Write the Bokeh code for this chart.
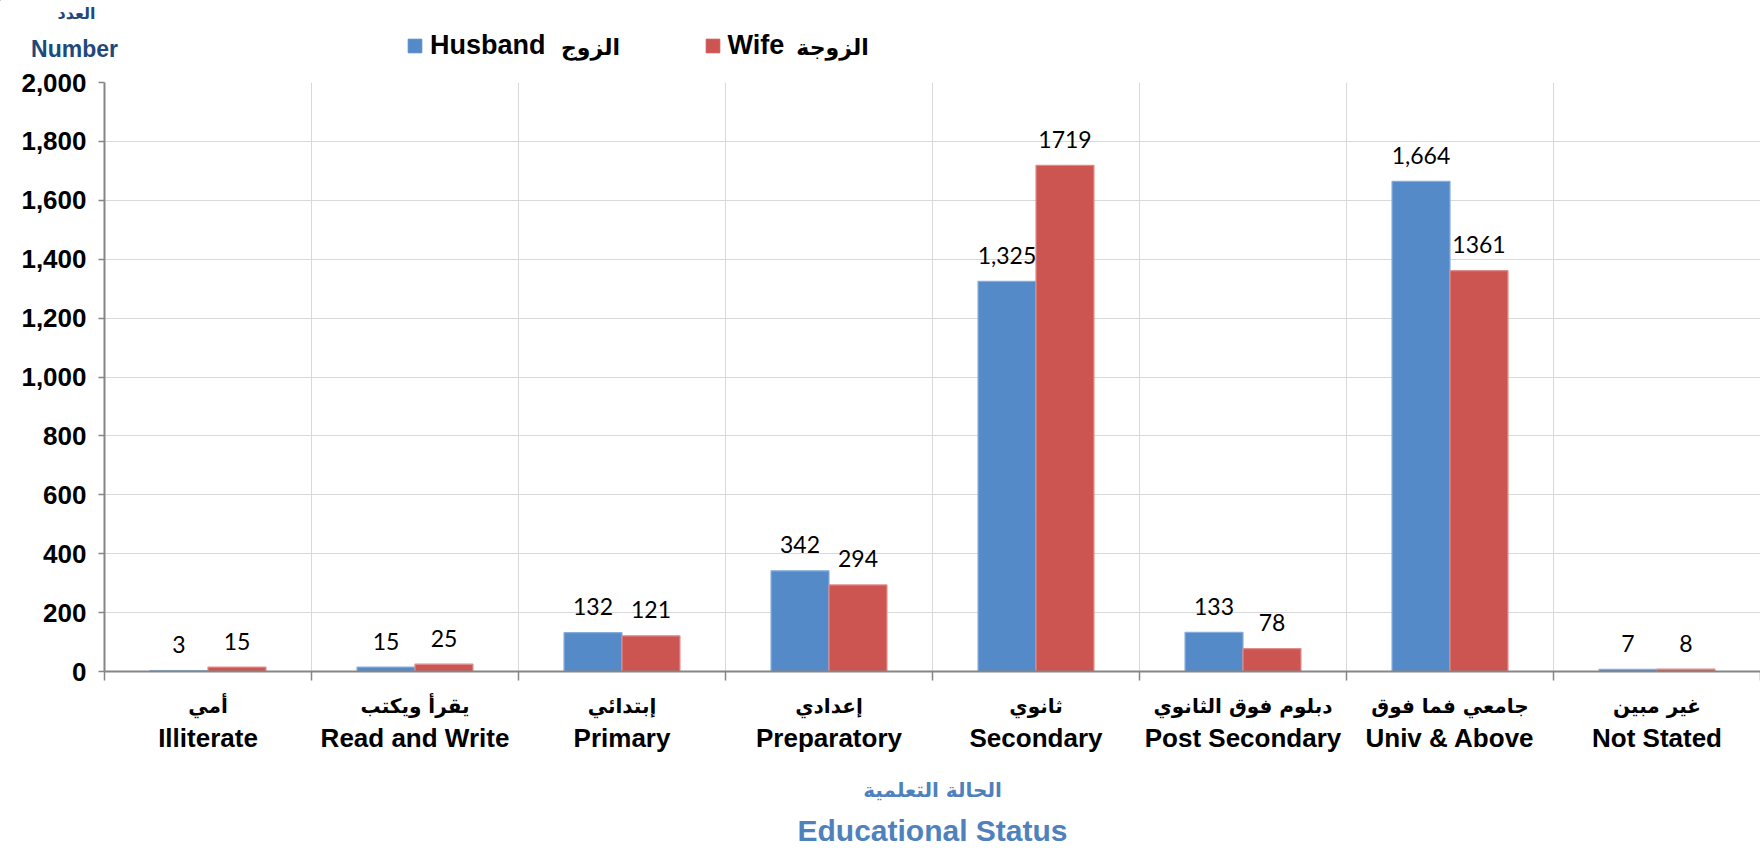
from bokeh.plotting import figure
from bokeh.models import (ColumnDataSource, Range1d, FixedTicker, NumeralTickFormatter,
                          Label, LabelSet, Legend, LegendItem)
from bokeh.core.properties import value
from bokeh.embed import file_html
from bokeh.resources import INLINE

# ---------------- data ----------------
categories_ar = ["أمي", "يقرأ ويكتب", "إبتدائي", "إعدادي", "ثانوي",
                 "دبلوم فوق الثانوي", "جامعي فما فوق", "غير مبين"]
categories_en = ["Illiterate", "Read and Write", "Primary", "Preparatory", "Secondary",
                 "Post Secondary", "Univ & Above", "Not Stated"]
husband = [3, 15, 132, 342, 1325, 133, 1664, 7]
wife = [15, 25, 121, 294, 1719, 78, 1361, 8]
y_ticks = [0, 200, 400, 600, 800, 1000, 1200, 1400, 1600, 1800, 2000]
series_en = ["Husband", "Wife"]
series_ar = ["الزوج", "الزوجة"]
y_title = ["العدد", "Number"]
x_title = ["الحالة التعلمية", "Educational Status"]

BLUE = "#558AC9"
BLUE_EDGE = "#86ACDC"
RED = "#CC5552"
RED_EDGE = "#E08C8A"
GRID = "#D9D9D9"
AXIS = "#868686"
NAVY = "#1F497D"
LBLUE = "#4F81BD"
SANS = "Liberation Sans"
ARAB = "DejaVu Sans"

W = 1760
HH = 64          # header height
MH = 621         # main figure height
FH_ = 164        # footer height
LEFT = 104

n = len(categories_en)
idx = list(range(n))
xr = Range1d(0, n)

# ---------------- header (axis title + legend) ----------------
hdr = figure(width=W, height=HH, output_backend="svg", toolbar_location=None,
             x_range=Range1d(0, W), y_range=Range1d(HH, 0),
             x_axis_type=None, y_axis_type=None,
             min_border=0, min_border_left=0, min_border_right=0,
             min_border_top=0, min_border_bottom=0,
             outline_line_color=None, background_fill_color="white",
             border_fill_color="white")
hdr.grid.visible = False
hdr.add_layout(Label(x=76, y=13, text=y_title[0], text_align="center",
                     text_baseline="middle", text_font=ARAB,
                     text_font_style="bold", text_font_size="16px", text_color=NAVY))
hdr.add_layout(Label(x=74, y=48, text=y_title[1], text_align="center",
                     text_baseline="middle", text_font=SANS,
                     text_font_style="bold", text_font_size="23px", text_color=NAVY))
# legend swatches (renderers kept outside the visible header range)
lh = hdr.vbar(x=[-500], top=[0], width=1, fill_color=BLUE, line_color=BLUE)
lw = hdr.vbar(x=[-500], top=[0], width=1, fill_color=RED, line_color=RED)
legend = Legend(items=[LegendItem(label=series_en[0], renderers=[lh]),
                       LegendItem(label=series_en[1], renderers=[lw])],
                location=(406, 3), orientation="horizontal",
                glyph_width=17, glyph_height=17, label_standoff=7, spacing=158,
                padding=0, margin=0, border_line_color=None, background_fill_alpha=0,
                label_text_font=SANS, label_text_font_style="bold",
                label_text_font_size="27px", label_text_color="black")
hdr.add_layout(legend)
hdr.add_layout(Label(x=590, y=47, text=series_ar[0], text_align="center",
                     text_baseline="middle", text_font=ARAB, text_font_style="bold",
                     text_font_size="22px", text_color="black"))
hdr.add_layout(Label(x=832, y=47, text=series_ar[1], text_align="center",
                     text_baseline="middle", text_font=ARAB, text_font_style="bold",
                     text_font_size="22px", text_color="black"))

# ---------------- main chart ----------------
p = figure(width=W, height=MH, output_backend="svg", toolbar_location=None,
           x_range=xr, y_range=Range1d(0, 2000),
           min_border_left=LEFT, min_border_right=0, min_border_top=18, min_border_bottom=14,
           background_fill_color="white", border_fill_color="white",
           outline_line_color=None)

bw = 0.28
src = ColumnDataSource(dict(
    xh=[i + 0.5 - bw / 2 for i in idx],
    xw=[i + 0.5 + bw / 2 for i in idx],
    husband=husband, wife=wife,
    th=["{:,}".format(v) for v in husband],
    tw=[str(v) for v in wife],
))

rh = p.vbar(x="xh", top="husband", width=bw, source=src, fill_color=BLUE,
            line_color=BLUE_EDGE, line_width=1.2)
rw = p.vbar(x="xw", top="wife", width=bw, source=src, fill_color=RED,
            line_color=RED_EDGE, line_width=1.2)

lab_kw = dict(text_align="center", text_baseline="middle", text_font=value("Lato"),
              text_font_size="23px", text_color="black", y_offset=26, source=src)
p.add_layout(LabelSet(x="xh", y="husband", text="th", **lab_kw))
p.add_layout(LabelSet(x="xw", y="wife", text="tw", **lab_kw))

xt = FixedTicker(ticks=list(range(n + 1)))
p.xaxis.ticker = xt
p.xgrid.ticker = xt
p.xaxis.major_label_text_font_size = "0px"
p.xaxis.major_label_standoff = 0
p.xaxis.axis_line_color = AXIS
p.xaxis.axis_line_width = 2
p.xaxis.major_tick_line_color = AXIS
p.xaxis.major_tick_line_width = 1.5
p.xaxis.major_tick_out = 9
p.xaxis.major_tick_in = 0
p.xaxis.minor_tick_line_color = None

yt = FixedTicker(ticks=y_ticks)
p.yaxis.ticker = yt
p.ygrid.ticker = yt
p.yaxis.formatter = NumeralTickFormatter(format="0,0")
p.yaxis.major_label_text_font = SANS
p.yaxis.major_label_text_font_style = "bold"
p.yaxis.major_label_text_font_size = "26px"
p.yaxis.major_label_text_color = "black"
p.yaxis.axis_line_color = AXIS
p.yaxis.axis_line_width = 2
p.yaxis.major_tick_line_color = AXIS
p.yaxis.major_tick_line_width = 1.5
p.yaxis.major_tick_out = 6
p.yaxis.major_tick_in = 0
p.yaxis.minor_tick_line_color = None
p.yaxis.major_label_standoff = 12

p.xgrid.grid_line_color = GRID
p.ygrid.grid_line_color = GRID

# ---------------- footer (category labels and x title) ----------------
ftr = figure(width=W, height=FH_, output_backend="svg", toolbar_location=None,
             x_range=xr, y_range=Range1d(FH_, 0),
             x_axis_type=None, y_axis_type=None,
             min_border_left=LEFT, min_border_right=0, min_border_top=0, min_border_bottom=0,
             outline_line_color=None, background_fill_color="white",
             border_fill_color="white")
ftr.grid.visible = False

for i in idx:
    ftr.add_layout(Label(x=i + 0.5, y=20, text=categories_ar[i],
                         text_align="center", text_baseline="middle",
                         text_font=ARAB, text_font_style="bold",
                         text_font_size="20px", text_color="black"))
    ftr.add_layout(Label(x=i + 0.5, y=52, text=categories_en[i],
                         text_align="center", text_baseline="middle",
                         text_font=SANS, text_font_style="bold",
                         text_font_size="26px", text_color="black"))

ftr.add_layout(Label(x=n / 2, y=104, text=x_title[0],
                     text_align="center", text_baseline="middle",
                     text_font=ARAB, text_font_style="bold",
                     text_font_size="20px", text_color=LBLUE))
ftr.add_layout(Label(x=n / 2, y=145, text=x_title[1],
                     text_align="center", text_baseline="middle",
                     text_font=SANS, text_font_style="bold",
                     text_font_size="30px", text_color=LBLUE))

open("out.html", "w").write(file_html([hdr, p, ftr], INLINE))
